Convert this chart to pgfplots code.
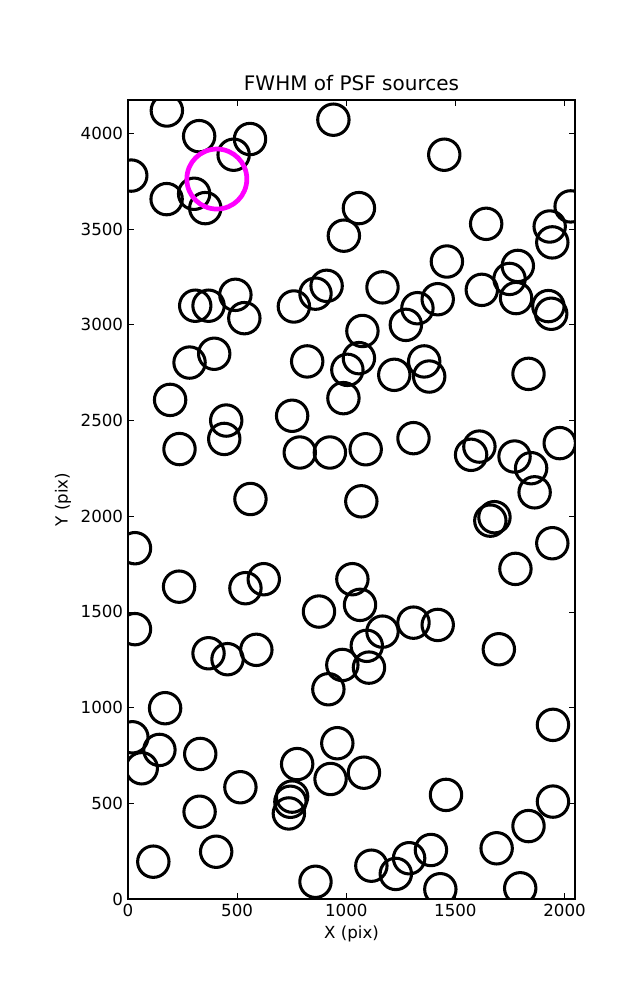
\documentclass[border=0pt]{standalone}
\usepackage{fontspec}
\setmainfont{DejaVu Sans}
\usepackage{pgfplots}
\pgfplotsset{compat=1.18}
\definecolor{mplmagenta}{RGB}{255,0,255}

% source positions (pix)
\pgfplotstableread{
x y
178 4120
326 3986
559 3971
484 3889
941 4072
1449 3889
15 3780
177 3657
303 3685
354 3610
1058 3610
989 3466
1641 3528
2028 3619
1932 3514
1944 3431
1461 3331
1166 3196
1786 3308
1748 3240
1778 3140
1621 3183
1419 3134
1326 3087
1273 3000
1926 3098
1939 3058
910 3204
859 3163
760 3096
308 3100
369 3100
492 3157
533 3035
282 2803
395 2849
821 2809
1074 2968
1058 2826
1005 2765
1220 2739
1357 2809
1380 2730
1835 2744
987 2617
193 2608
450 2500
441 2404
236 2351
752 2525
787 2333
925 2333
1089 2350
1308 2408
1572 2321
1610 2364
1771 2312
1847 2251
1863 2125
1978 2382
561 2090
1069 2078
1660 1977
1679 1995
32 1833
234 1632
538 1624
622 1671
1944 1859
1775 1725
1028 1671
1063 1537
32 1410
875 1502
369 1284
456 1253
588 1302
982 1223
918 1096
1094 1323
1104 1209
1166 1397
1308 1444
1419 1432
1699 1305
170 997
20 845
144 779
63 683
331 758
515 584
775 705
959 814
928 627
1081 660
752 535
744 508
737 447
328 456
404 247
116 195
859 90
1457 544
1947 910
1947 509
1835 381
1689 265
1388 256
1288 213
1227 131
1115 174
1431 51
1797 56
}\sources

\begin{document}
\begin{tikzpicture}
\begin{axis}[
    at={(0pt,0pt)}, anchor=south west,
    scale only axis,
    width=321.84pt, height=575.28pt,
    xmin=0, xmax=2048,
    ymin=0, ymax=4175,
    xtick={0,500,...,2000},
    ytick={0,500,...,4000},
    tick align=inside,
    major tick length=4pt,
    every tick/.style={black, line width=0.6pt},
    axis line style={line width=1pt},
    /pgf/number format/assume math mode=true,
    /pgf/number format/set thousands separator={},
    tick label style={font=\fontsize{12}{14}\selectfont},
    label style={font=\fontsize{12}{14}\selectfont},
    title style={font=\fontsize{14.4}{17}\selectfont, yshift=-3pt},
    title={FWHM of PSF sources},
    xlabel={X (pix)},
    ylabel={Y (pix)},
    clip marker paths=true,
]
\addplot[only marks, mark=o, mark size=11.3pt,
    mark options={line width=2.2pt, draw=black}] table {\sources};
\addplot[only marks, mark=o, mark size=21.6pt,
    mark options={line width=3.4pt, draw=mplmagenta}] coordinates {(407,3762)};
\end{axis}
\path[use as bounding box] (-92.16pt,-72.72pt) rectangle (366.48pt,647.28pt);
\end{tikzpicture}
\end{document}
